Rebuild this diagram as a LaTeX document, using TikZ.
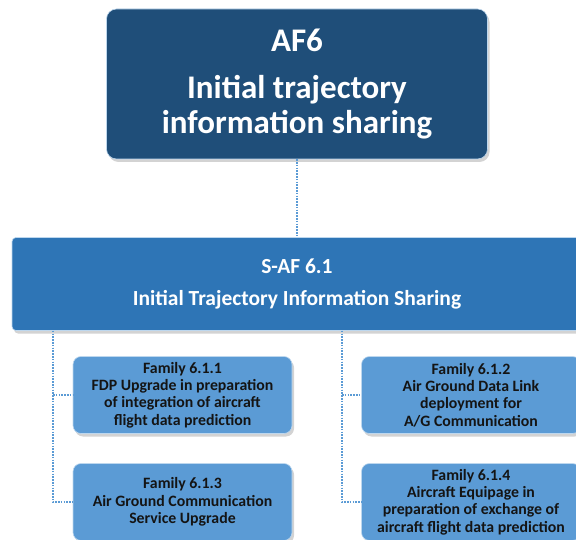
\documentclass[tikz,border=0pt]{standalone}
\usepackage{fontspec}
\setmainfont{Carlito}
\usetikzlibrary{positioning, shadows}
\definecolor{afdark}{HTML}{1F4E79}
\definecolor{afmid}{HTML}{2E75B6}
\definecolor{aflight}{HTML}{5B9BD5}
\definecolor{aftext}{HTML}{141414}

\begin{document}
\begin{tikzpicture}[
    x=1pt, y=-1pt,
    basebox/.style={draw=white!60!aflight, line width=0.6pt, align=center,
        drop shadow={shadow xshift=2pt, shadow yshift=-3pt, opacity=0.35}},
    afbox/.style={basebox, fill=afdark, text=white, rounded corners=10pt,
        minimum width=381pt, minimum height=150pt,
        font=\bfseries\fontsize{33}{35}\selectfont},
    safbox/.style={basebox, fill=afmid, text=white, rounded corners=4pt,
        minimum width=570pt, minimum height=93pt,
        font=\bfseries\fontsize{21.5}{32}\selectfont},
    fambox/.style={basebox, fill=aflight, text=aftext, rounded corners=8pt,
        minimum width=219pt, minimum height=77pt, inner sep=2pt,
        font=\bfseries\fontsize{15.8}{17.4}\selectfont},
    link/.style={draw=aflight, line width=1.6pt, dash pattern=on 1.6pt off 1.2pt}
]
\useasboundingbox (0,0) rectangle (576,540);

\node[afbox] (af6) at (297,84)
    {AF6\\[12pt]Initial trajectory\\information sharing};
\node[safbox] (saf) at (297,284)
    {S-AF 6.1\\Initial Trajectory Information Sharing};

\node[fambox] (fam1) at (182.5,395)
    {Family 6.1.1\\FDP Upgrade in preparation\\of integration of aircraft\\flight data prediction};
\node[fambox] (fam2) at (471,395)
    {Family 6.1.2\\Air Ground Data Link\\deployment for\\A/G Communication};
\node[fambox] (fam3) at (182.5,502)
    {Family 6.1.3\\Air Ground Communication\\Service Upgrade};
\node[fambox] (fam4) at (471,502)
    {Family 6.1.4\\Aircraft Equipage in\\preparation of exchange of\\aircraft flight data prediction};

\draw[link] (af6) -- (saf);
\draw[link] ([xshift=41pt]saf.south west) |- (fam1);
\draw[link] ([xshift=41pt]saf.south west) |- (fam3);
\draw[link] ([xshift=330pt]saf.south west) |- (fam2);
\draw[link] ([xshift=330pt]saf.south west) |- (fam4);
\end{tikzpicture}
\end{document}
